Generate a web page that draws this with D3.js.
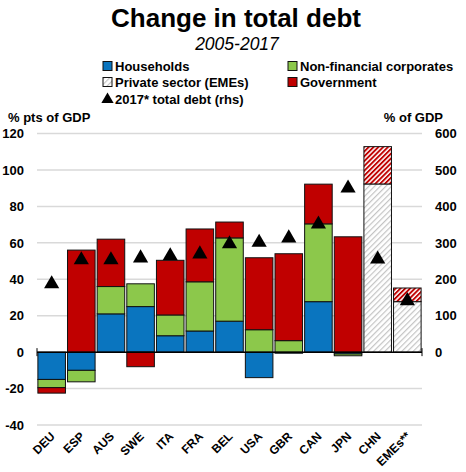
<!DOCTYPE html>
<html><head><meta charset="utf-8">
<script src="https://cdn.jsdelivr.net/npm/d3@7"></script>
<style>body{margin:0;background:#fff}svg{display:block;font-family:"Liberation Sans",Arial,sans-serif}</style>
</head><body><svg id="c" width="466" height="472"></svg>
<script>
const categories = ["DEU","ESP","AUS","SWE","ITA","FRA","BEL","USA","GBR","CAN","JPN","CHN","EMEs**"];
const households = [-15,-10,21,25,9,11.6,17,-14,-0.6,27.7,-1,0,0];
const nonFinCorp = [-4.5,-6.3,15,12.5,11.4,27,45.7,12.3,6.3,42.7,-1,0,0];
const privateEME = [0,0,0,0,0,0,0,0,0,0,0,92.3,27.7];
const government = [-3,56,26,-8,30,29,8.7,39.5,47.7,21.8,63.3,20.5,7.5];
const totalDebt2017 = [187,253,253,258,264,269,297,301,313,351,450,255,141];
const leftTicks = [-40,-20,0,20,40,60,80,100,120];
const rightTicks = [0,100,200,300,400,500,600];

const svg = d3.select("#c");
const defs = svg.append("defs");
const pr = defs.append("pattern").attr("id","hatchRed").attr("patternUnits","userSpaceOnUse")
  .attr("width",3.4).attr("height",3.4).attr("patternTransform","rotate(45)");
pr.append("rect").attr("width",3.4).attr("height",3.4).attr("fill","#fff");
pr.append("rect").attr("width",1.9).attr("height",3.4).attr("fill","#C00000");
const pg = defs.append("pattern").attr("id","hatchGray").attr("patternUnits","userSpaceOnUse")
  .attr("width",4).attr("height",4).attr("patternTransform","rotate(45)");
pg.append("rect").attr("width",4).attr("height",4).attr("fill","#fff");
pg.append("rect").attr("width",1.2).attr("height",4).attr("fill","#C4C4C4");

const x = d3.scaleBand().domain(categories).range([37,422]).paddingInner(0.07).paddingOuter(0.03);
const y = d3.scaleLinear().domain([-40,120]).range([425,133.5]);
const y2 = d3.scaleLinear().domain([-200,600]).range([425,133.5]);

// gridlines
svg.append("g").selectAll("line").data(leftTicks.filter(d=>d!==0)).join("line")
  .attr("x1",37).attr("x2",422).attr("y1",d=>y(d)).attr("y2",d=>y(d))
  .attr("stroke","#D9D9D9").attr("stroke-width",1.5);

// left axis labels
svg.append("g").selectAll("text").data(leftTicks).join("text")
  .attr("x",24).attr("y",d=>y(d)+4.7).attr("text-anchor","end")
  .attr("font-size",13).attr("font-weight","bold").text(d=>d);
// right axis labels
svg.append("g").selectAll("text").data(rightTicks).join("text")
  .attr("x",435).attr("y",d=>y2(d)+4.7).attr("text-anchor","start")
  .attr("font-size",13).attr("font-weight","bold").text(d=>d);

svg.append("text").attr("x",8).attr("y",122).attr("font-size",13).attr("font-weight","bold").text("% pts of GDP");
svg.append("text").attr("x",443).attr("y",122).attr("text-anchor","end").attr("font-size",13).attr("font-weight","bold").text("% of GDP");

// stacked bars
const series = [
  {key:"households", vals:households, fill:"#0A75BF"},
  {key:"nfc", vals:nonFinCorp, fill:"#8CC84B"},
  {key:"private", vals:privateEME, fill:"url(#hatchGray)"},
  {key:"gov", vals:government, fill:"#C00000", hatchFill:"url(#hatchRed)"}
];
const rects = [];
categories.forEach((c,i)=>{
  let pos=0, neg=0;
  const eme = privateEME[i] !== 0;
  series.forEach(s=>{
    const v = s.vals[i];
    if (v===0) return;
    let y0,y1;
    if (v>0){y0=pos;y1=pos+v;pos=y1;} else {y0=neg;y1=neg+v;neg=y1;}
    rects.push({c, y0, y1, fill: (eme && s.hatchFill) ? s.hatchFill : s.fill});
  });
});
svg.append("g").selectAll("rect").data(rects).join("rect")
  .attr("x",d=>x(d.c)).attr("width",x.bandwidth())
  .attr("y",d=>y(Math.max(d.y0,d.y1))).attr("height",d=>Math.abs(y(d.y0)-y(d.y1)))
  .attr("fill",d=>d.fill).attr("stroke","#111").attr("stroke-width",1);

// zero line
svg.append("line").attr("x1",37).attr("x2",422).attr("y1",y(0)).attr("y2",y(0)).attr("stroke","#000").attr("stroke-width",1.5);
svg.append("line").attr("x1",37).attr("x2",37).attr("y1",y(0)-4).attr("y2",y(0)+4).attr("stroke","#000").attr("stroke-width",1);
svg.append("line").attr("x1",422).attr("x2",422).attr("y1",y(0)-4).attr("y2",y(0)+4).attr("stroke","#000").attr("stroke-width",1);

// triangles
const tri = d3.symbol().type(d3.symbolTriangle).size(100);
svg.append("g").selectAll("path").data(categories).join("path")
  .attr("d",tri).attr("transform",(d,i)=>`translate(${x(d)+x.bandwidth()/2},${y2(totalDebt2017[i])})`)
  .attr("fill","#000");

// x labels
svg.append("g").selectAll("text").data(categories).join("text")
  .attr("transform",d=>`translate(${x(d)+x.bandwidth()/2+4},${437}) rotate(-45)`)
  .attr("text-anchor","end").attr("font-size",12).attr("font-weight","bold").text(d=>d);

// title
svg.append("text").attr("x",236).attr("y",27).attr("text-anchor","middle").attr("font-size",26).attr("font-weight","bold").text("Change in total debt");
svg.append("text").attr("x",237).attr("y",50).attr("text-anchor","middle").attr("font-size",17.5).attr("font-style","italic").text("2005-2017");

// legend
const legend = [
  {t:"Households", f:"#0A75BF", x:103, y:71},
  {t:"Non-financial corporates", f:"#8CC84B", x:288, y:71},
  {t:"Private sector (EMEs)", f:"url(#hatchGray)", x:103, y:87},
  {t:"Government", f:"#C00000", x:288, y:87}
];
const lg = svg.append("g");
legend.forEach(l=>{
  lg.append("rect").attr("x",l.x).attr("y",l.y-9.5).attr("width",9).attr("height",9).attr("fill",l.f).attr("stroke","#111").attr("stroke-width",1);
  lg.append("text").attr("x",l.x+12).attr("y",l.y).attr("font-size",13).attr("font-weight","bold").text(l.t);
});
lg.append("path").attr("d",d3.symbol().type(d3.symbolTriangle).size(65)).attr("transform","translate(107.5,99.5)").attr("fill","#000");
lg.append("text").attr("x",115).attr("y",104).attr("font-size",13).attr("font-weight","bold").text("2017* total debt (rhs)");
</script></body></html>
